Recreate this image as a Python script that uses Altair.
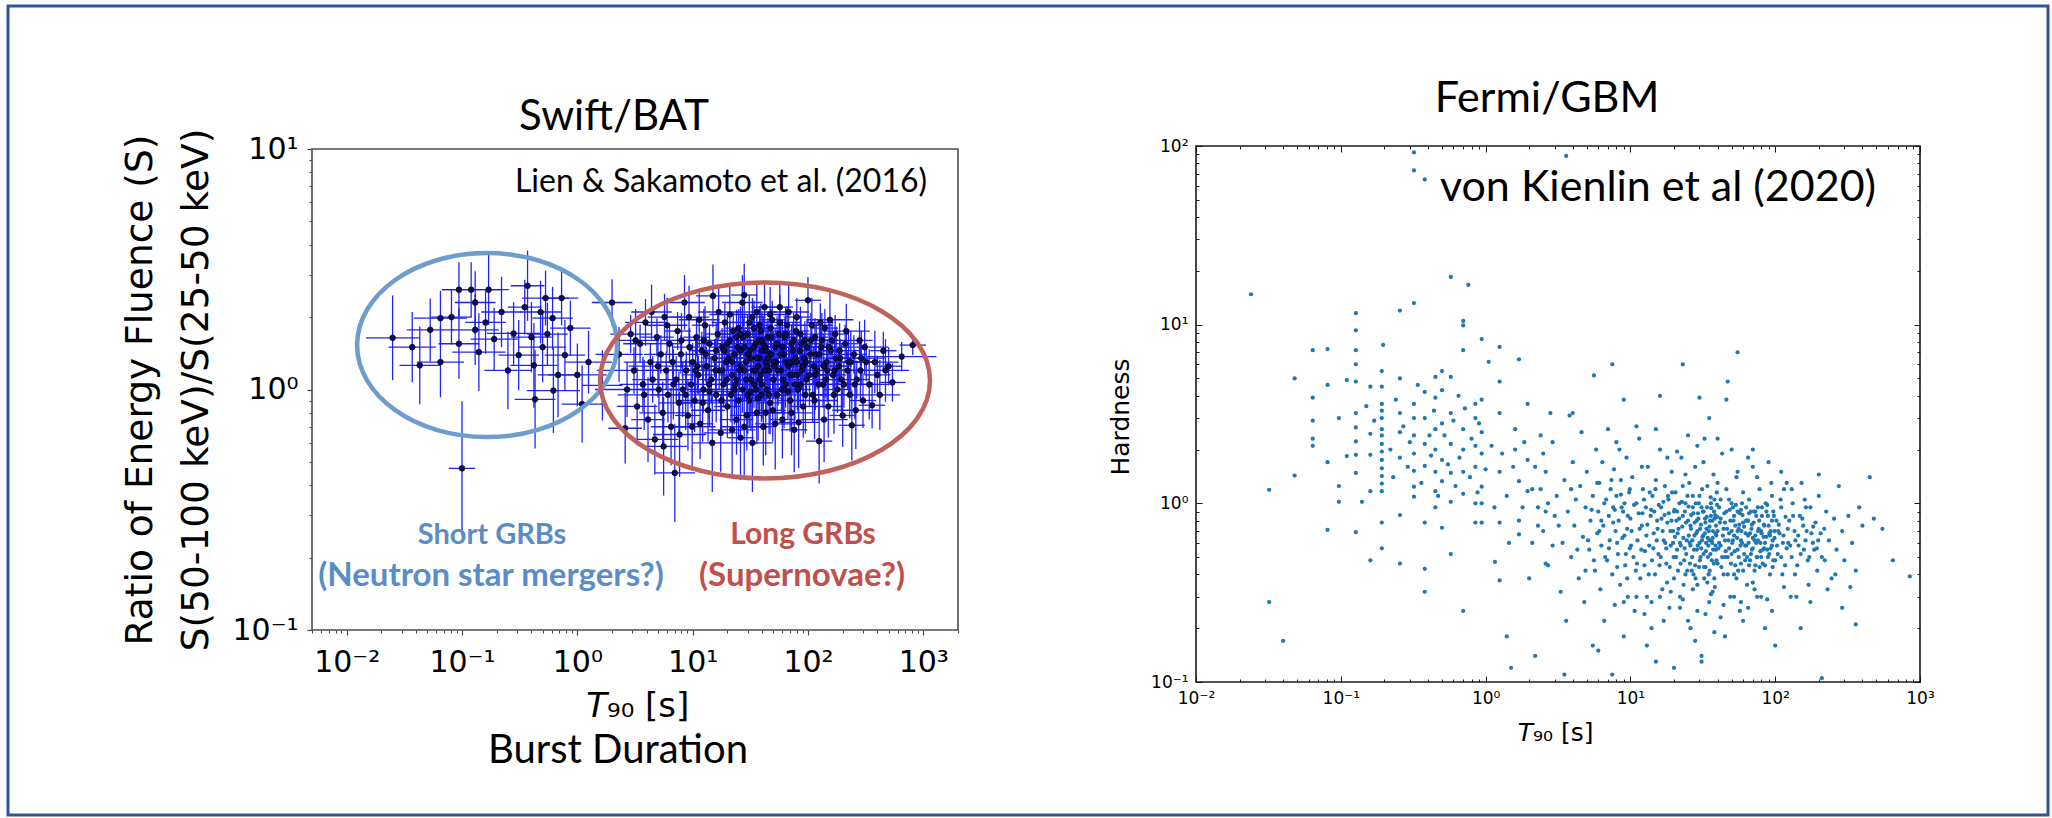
import altair as alt
import pandas as pd

# ---------------- Swift/BAT (Lien & Sakamoto et al. 2016) ----------------
# (T90 [s], fluence ratio S(50-100)/S(25-50), T90 error factor, ratio error factor)
bat_short = [
    (0.025, 1.64, 1.7, 1.5), (0.037, 1.50, 1.6, 1.4), (0.043, 1.26, 1.5, 1.45), (0.053, 1.77, 1.6, 1.35),
    (0.065, 1.98, 1.7, 1.3), (0.081, 2.0, 1.5, 1.3), (0.094, 2.6, 1.4, 1.3), (0.12, 2.6, 1.8, 1.3),
    (0.13, 2.3, 1.5, 1.35), (0.13, 1.77, 1.6, 1.4), (0.094, 1.55, 1.5, 1.4), (0.14, 1.43, 1.7, 1.45),
    (0.10, 0.47, 1.3, 1.9), (0.17, 2.6, 1.5, 1.4), (0.19, 1.62, 1.6, 1.35), (0.22, 2.1, 1.5, 1.4),
    (0.28, 1.71, 1.7, 1.35), (0.31, 1.39, 1.5, 1.4), (0.37, 2.7, 1.4, 1.4), (0.42, 1.26, 1.6, 1.5),
    (0.43, 0.91, 1.5, 1.6), (0.48, 2.1, 1.5, 1.35), (0.53, 2.4, 1.6, 1.3), (0.61, 1.98, 1.5, 1.35),
    (0.62, 0.99, 1.7, 1.5), (0.73, 2.4, 1.4, 1.3), (0.78, 1.39, 1.5, 1.4), (0.50, 1.5, 1.6, 1.4),
    (1.1, 0.87, 1.5, 1.45), (1.0, 1.15, 1.8, 1.35), (0.87, 1.8, 1.5, 1.3), (1.25, 1.3, 1.6, 1.35),
    (1.65, 1.04, 1.5, 1.4), (0.065, 1.3, 1.6, 1.4), (0.16, 1.9, 1.5, 1.35), (0.25, 1.2, 1.6, 1.45),
    (0.35, 2.2, 1.4, 1.3), (0.55, 1.7, 1.5, 1.35), (0.68, 1.15, 1.5, 1.5), (0.40, 1.65, 1.5, 1.4),
]
bat_long = [
    (2.0, 2.3, 1.5, 1.25), (2.3, 1.4, 1.6, 1.3), (2.6, 0.69, 1.4, 1.4), (2.7, 1.0, 1.9, 1.3), (2.9, 1.7, 1.5, 1.2),
    (3.1, 1.2, 2.1, 1.25), (3.3, 0.85, 1.5, 1.45), (3.5, 1.55, 1.4, 1.2), (3.7, 1.05, 1.6, 1.3), (3.9, 1.9, 1.5, 1.25),
    (4.1, 0.75, 1.4, 1.5), (4.3, 1.3, 1.7, 1.2), (4.5, 1.1, 1.5, 1.25), (4.7, 0.62, 1.6, 1.4), (4.9, 1.65, 1.4, 1.2),
    (5.1, 1.0, 1.5, 1.25), (5.3, 1.4, 1.4, 1.2), (5.5, 0.8, 1.6, 1.35), (5.7, 2.0, 1.4, 1.25), (5.9, 1.2, 1.5, 1.2),
    (6.1, 0.95, 1.4, 1.3), (6.3, 1.55, 1.3, 1.2), (6.5, 0.7, 1.5, 1.45), (6.7, 1.3, 1.4, 1.2), (7.0, 0.45, 1.5, 1.6),
    (7.2, 1.1, 1.4, 1.25), (7.4, 1.75, 1.3, 1.2), (7.6, 0.88, 1.5, 1.35), (7.9, 1.4, 1.4, 1.2), (8.2, 1.0, 1.3, 1.3),
    (8.5, 2.3, 1.5, 1.3), (8.8, 1.2, 1.4, 1.2), (9.1, 0.78, 1.3, 1.4), (9.4, 1.5, 1.4, 1.2), (9.7, 1.05, 1.3, 1.25),
    (10, 1.3, 1.3, 1.2), (10.4, 0.9, 1.4, 1.35), (10.8, 1.65, 1.3, 1.2), (11.2, 1.15, 1.4, 1.2), (11.6, 0.72, 1.3, 1.4),
    (12, 1.45, 1.3, 1.2), (12.4, 1.0, 1.4, 1.25), (12.8, 1.85, 1.3, 1.2), (13.2, 1.25, 1.3, 1.2), (13.6, 0.82, 1.4, 1.35),
    (14, 1.55, 1.3, 1.2), (14.5, 1.1, 1.3, 1.25), (15, 2.45, 1.4, 1.35), (15.5, 1.35, 1.3, 1.2), (16, 0.95, 1.3, 1.3),
    (16.5, 1.7, 1.3, 1.2), (17, 1.2, 1.3, 1.2), (17.5, 0.66, 1.4, 1.45), (18, 1.5, 1.3, 1.2), (18.5, 1.05, 1.3, 1.25),
    (19, 1.9, 1.3, 1.2), (19.5, 1.3, 1.3, 1.2),
    (20, 0.85, 1.3, 1.35), (21, 1.6, 1.3, 1.2), (22, 1.15, 1.3, 1.2), (23, 1.4, 1.3, 1.2), (24, 0.75, 1.4, 1.4),
    (25, 1.8, 1.3, 1.2), (26, 0.63, 1.3, 1.5), (26, 1.25, 1.3, 1.2), (27, 1.0, 1.3, 1.25), (28, 2.47, 1.3, 1.35),
    (28, 1.5, 1.3, 1.2), (29, 1.1, 1.3, 1.2), (30, 1.7, 1.3, 1.2), (31, 0.9, 1.3, 1.3), (32, 1.35, 1.3, 1.2),
    (33, 2.0, 1.3, 1.2), (34, 1.05, 1.3, 1.25), (35, 1.55, 1.3, 1.2), (36, 0.8, 1.3, 1.35), (37, 1.25, 1.3, 1.2),
    (38, 1.85, 1.3, 1.2), (39, 1.15, 1.3, 1.2), (40, 1.45, 1.3, 1.2), (41, 0.7, 1.3, 1.45), (42, 2.2, 1.3, 1.25),
    (43, 1.3, 1.3, 1.2), (44, 1.0, 1.3, 1.25), (45, 1.65, 1.3, 1.2), (46, 1.2, 1.3, 1.2), (47, 0.88, 1.3, 1.35),
    (48, 1.4, 1.3, 1.2), (49, 1.95, 1.3, 1.2), (50, 1.1, 1.3, 1.2),
    (20.5, 1.35, 1.3, 1.2), (21.5, 0.95, 1.3, 1.3), (22.5, 1.75, 1.3, 1.2), (23.5, 1.05, 1.3, 1.25), (24.5, 1.5, 1.3, 1.2),
    (25.5, 1.2, 1.3, 1.2), (27.5, 1.65, 1.3, 1.2), (29.5, 0.78, 1.4, 1.4), (31.5, 1.45, 1.3, 1.2), (33.5, 1.2, 1.3, 1.2),
    (35.5, 1.0, 1.3, 1.25), (37.5, 1.6, 1.3, 1.2), (39.5, 0.95, 1.3, 1.3), (42.5, 1.5, 1.3, 1.2), (44.5, 1.25, 1.3, 1.2),
    (47.5, 1.8, 1.3, 1.2), (49.5, 0.82, 1.3, 1.35),
    (52, 1.5, 1.3, 1.2), (54, 0.95, 1.3, 1.3), (56, 1.7, 1.3, 1.2), (57, 2.2, 1.3, 1.25), (58, 1.2, 1.3, 1.2),
    (60, 0.75, 1.3, 1.45), (62, 1.4, 1.3, 1.2), (64, 1.05, 1.3, 1.25), (66, 1.85, 1.3, 1.2), (68, 1.25, 1.3, 1.2),
    (70, 0.9, 1.3, 1.35), (72, 1.55, 1.3, 1.2), (74, 1.15, 1.3, 1.2), (76, 0.68, 1.3, 1.5), (78, 1.35, 1.3, 1.2),
    (80, 2.0, 1.3, 1.2), (82, 1.0, 1.3, 1.25), (85, 1.45, 1.3, 1.2), (88, 1.2, 1.3, 1.2), (91, 0.85, 1.3, 1.35),
    (94, 1.6, 1.3, 1.2), (97, 1.1, 1.3, 1.2), (100, 2.35, 1.3, 1.25),
    (53, 1.3, 1.3, 1.2), (59, 1.0, 1.3, 1.25), (63, 1.65, 1.3, 1.2), (67, 0.98, 1.3, 1.3), (73, 1.3, 1.3, 1.2),
    (79, 1.75, 1.3, 1.2), (86, 1.05, 1.3, 1.25), (93, 1.35, 1.3, 1.2),
    (105, 1.4, 1.3, 1.2), (110, 0.95, 1.3, 1.3), (115, 1.65, 1.3, 1.2), (120, 1.2, 1.3, 1.2), (125, 0.61, 1.3, 1.5),
    (130, 1.5, 1.3, 1.2), (135, 1.05, 1.3, 1.25), (140, 1.8, 1.3, 1.2), (145, 1.3, 1.3, 1.2), (150, 0.85, 1.3, 1.35),
    (158, 1.45, 1.3, 1.2), (165, 1.15, 1.3, 1.2), (172, 1.7, 1.3, 1.2), (180, 1.0, 1.3, 1.25), (190, 1.35, 1.3, 1.2),
    (200, 0.78, 1.3, 1.35), (210, 1.55, 1.3, 1.2), (220, 1.2, 1.3, 1.2), (230, 0.95, 1.3, 1.25), (240, 0.71, 1.3, 1.4),
    (250, 1.4, 1.3, 1.2), (265, 1.1, 1.3, 1.2), (280, 1.6, 1.3, 1.2), (300, 0.9, 1.3, 1.3),
    (112, 1.25, 1.3, 1.2), (128, 1.9, 1.3, 1.2), (143, 1.1, 1.3, 1.2), (162, 1.6, 1.3, 1.2), (185, 1.25, 1.3, 1.2),
    (205, 1.05, 1.3, 1.25),
    (320, 1.3, 1.3, 1.2), (360, 0.86, 1.3, 1.25), (400, 1.15, 1.3, 1.2), (450, 1.45, 1.3, 1.2), (540, 1.07, 1.3, 1.2),
    (650, 1.37, 2.0, 1.15), (810, 1.53, 1.3, 1.1), (500, 1.25, 1.3, 1.2),
]
bat_long_more = [
    (3.2, 1.6, 1.6, 1.35), (3.8, 0.95, 1.7, 1.4), (4.4, 2.1, 1.5, 1.3), (5.0, 1.25, 1.8, 1.35), (5.6, 0.58, 1.6, 1.6),
    (6.0, 1.85, 1.5, 1.3), (6.8, 1.05, 1.6, 1.4), (7.7, 0.65, 1.7, 1.5), (8.0, 1.6, 1.5, 1.3), (8.7, 0.95, 1.6, 1.4),
    (9.3, 2.0, 1.5, 1.35), (9.9, 0.7, 1.6, 1.5), (10.6, 1.2, 1.7, 1.35), (11.4, 1.95, 1.5, 1.3), (12.2, 0.88, 1.6, 1.45),
    (13, 1.4, 1.5, 1.3), (13.9, 1.05, 1.6, 1.4), (14.8, 0.6, 1.5, 1.6), (15.8, 1.2, 1.6, 1.35), (16.8, 2.1, 1.5, 1.3),
    (17.8, 0.9, 1.6, 1.4), (18.8, 1.45, 1.5, 1.3), (19.8, 1.1, 1.6, 1.35), (21, 2.05, 1.5, 1.3), (22, 0.68, 1.6, 1.55),
    (23, 1.0, 1.7, 1.4), (24, 1.65, 1.5, 1.3), (25, 0.9, 1.6, 1.45), (26, 1.45, 1.5, 1.3), (27, 2.3, 1.5, 1.3),
    (28, 0.7, 1.6, 1.6), (29, 1.3, 1.5, 1.35), (30, 0.95, 1.7, 1.45), (31, 1.9, 1.5, 1.3), (32, 1.1, 1.6, 1.4),
    (33, 0.6, 1.5, 1.6), (34, 1.5, 1.6, 1.3), (35, 1.2, 1.5, 1.35), (36, 2.1, 1.5, 1.3), (37, 0.92, 1.6, 1.5),
    (38, 1.35, 1.5, 1.35), (39, 1.75, 1.6, 1.3), (40, 1.05, 1.5, 1.4), (41, 1.55, 1.6, 1.3), (43, 0.8, 1.5, 1.5),
    (45, 1.35, 1.6, 1.35), (47, 2.05, 1.5, 1.3), (50, 1.3, 1.6, 1.35), (52, 0.72, 1.5, 1.55), (55, 1.2, 1.6, 1.4),
    (57, 1.9, 1.5, 1.3), (60, 1.5, 1.6, 1.3), (62, 1.0, 1.5, 1.45), (65, 1.3, 1.6, 1.35), (68, 2.1, 1.5, 1.3),
    (70, 1.15, 1.6, 1.4), (72, 0.8, 1.5, 1.5), (75, 1.6, 1.6, 1.3), (77, 1.05, 1.5, 1.4), (80, 1.3, 1.6, 1.35),
    (83, 0.73, 1.5, 1.55), (86, 1.7, 1.6, 1.3), (90, 1.25, 1.5, 1.35), (95, 0.95, 1.6, 1.45), (98, 1.5, 1.5, 1.3),
    (103, 1.15, 1.6, 1.35), (108, 1.85, 1.5, 1.3), (114, 0.9, 1.6, 1.45), (118, 1.4, 1.5, 1.35), (124, 1.05, 1.6, 1.4),
    (132, 1.6, 1.5, 1.3), (138, 0.75, 1.6, 1.5), (147, 1.2, 1.5, 1.35), (155, 1.95, 1.6, 1.3), (168, 0.95, 1.5, 1.45),
    (176, 1.35, 1.6, 1.35), (195, 1.1, 1.5, 1.4), (215, 1.75, 1.6, 1.3), (235, 1.3, 1.5, 1.35), (260, 0.82, 1.6, 1.45),
    (285, 1.2, 1.5, 1.35), (310, 1.5, 1.6, 1.3), (340, 1.05, 1.5, 1.4), (380, 1.3, 1.6, 1.35), (420, 0.95, 1.5, 1.4),
    (470, 1.2, 1.6, 1.35),
]
bat_core = [
    (11, 1.25, 1.5, 1.3), (12.5, 1.6, 1.6, 1.35), (14, 0.98, 1.5, 1.4), (16, 1.45, 1.6, 1.3), (18, 1.2, 1.5, 1.35),
    (20, 1.55, 1.6, 1.3), (22, 1.3, 1.5, 1.35), (24, 1.1, 1.6, 1.4), (26, 1.7, 1.5, 1.3), (28, 1.2, 1.6, 1.35),
    (30, 1.4, 1.5, 1.3), (32, 0.98, 1.6, 1.45), (34, 1.8, 1.5, 1.3), (36, 1.35, 1.6, 1.35), (38, 1.1, 1.5, 1.4),
    (40, 1.6, 1.6, 1.3), (42, 1.2, 1.5, 1.35), (44, 1.45, 1.6, 1.3), (46, 0.95, 1.5, 1.45), (48, 1.65, 1.6, 1.3),
    (51, 1.25, 1.5, 1.35), (54, 1.55, 1.6, 1.3), (58, 1.4, 1.5, 1.35), (61, 1.1, 1.6, 1.4), (64, 1.7, 1.5, 1.3),
    (69, 1.3, 1.6, 1.35), (74, 1.45, 1.5, 1.3), (81, 1.15, 1.6, 1.4), (87, 1.55, 1.5, 1.3), (96, 1.3, 1.6, 1.35),
    (106, 1.6, 1.5, 1.3), (116, 1.15, 1.6, 1.4), (126, 1.4, 1.5, 1.35), (137, 1.25, 1.6, 1.35), (152, 1.5, 1.5, 1.3),
    (170, 1.2, 1.6, 1.4), (188, 1.45, 1.5, 1.3), (225, 1.3, 1.6, 1.35), (255, 1.05, 1.5, 1.4), (290, 1.35, 1.6, 1.3),
]
# annotation ellipses (centre T90, centre ratio)
ellipse_t90 = [0.165, 42.4]
ellipse_ratio = [1.53, 1.09]

# ---------------- Fermi/GBM (von Kienlin et al. 2020) ----------------
# (T90 [s], hardness)
gbm_short = [
    (0.024, 14.8), (0.32, 92), (0.32, 73), (0.38, 65), (0.032, 1.19), (0.032, 0.28), (0.040, 0.17), (0.048, 5.0), (0.048, 1.43),
    (0.064, 7.2), (0.064, 3.9), (0.064, 2.9), (0.064, 2.3), (0.064, 2.1),
    (0.081, 7.3), (0.081, 4.6), (0.081, 1.7), (0.081, 0.71),
    (0.097, 3.0), (0.097, 1.25), (0.097, 1.02), (0.11, 4.9), (0.11, 1.84),
    (0.127, 11.6), (0.127, 9.3), (0.127, 7.2), (0.127, 6.0), (0.127, 4.8), (0.127, 3.2), (0.127, 2.66), (0.127, 2.22),
    (0.127, 1.87), (0.127, 1.48), (0.127, 0.69),
    (0.14, 1.02), (0.16, 0.48), (0.16, 4.5), (0.16, 2.45), (0.16, 1.87), (0.16, 1.17),
    (0.196, 7.7), (0.192, 5.5), (0.192, 4.5), (0.192, 3.6), (0.192, 3.3), (0.192, 3.0), (0.192, 2.6), (0.192, 2.4),
    (0.192, 2.15), (0.192, 1.95), (0.192, 1.75), (0.192, 1.57), (0.192, 1.42), (0.192, 1.29), (0.192, 1.17),
    (0.192, 0.78), (0.192, 0.56),
    (0.256, 12.0), (0.256, 5.0), (0.256, 3.2), (0.256, 2.5), (0.256, 1.8), (0.256, 0.86), (0.256, 0.46),
    (0.32, 13.2), (0.32, 3.6), (0.32, 3.0), (0.32, 2.4), (0.32, 1.9), (0.32, 1.52), (0.32, 1.24), (0.32, 1.09),
    (0.38, 4.2), (0.38, 3.0), (0.38, 2.15), (0.38, 1.62), (0.38, 0.43), (0.38, 0.32), (0.38, 0.78),
    (0.45, 5.1), (0.45, 3.9), (0.45, 2.6), (0.45, 2.0), (0.45, 1.5), (0.45, 1.17), (0.45, 0.95),
    (0.50, 5.5), (0.50, 4.3), (0.50, 2.8), (0.50, 1.75), (0.50, 1.33), (0.50, 0.73),
    (0.575, 18.5), (0.575, 5.1), (0.575, 3.2), (0.575, 2.15), (0.575, 1.48), (0.575, 1.02), (0.575, 0.52),
    (0.70, 10.5), (0.70, 9.9), (0.70, 7.2), (0.70, 2.6), (0.70, 2.0), (0.70, 1.5), (0.70, 1.13), (0.70, 0.25),
    (0.76, 16.7), (0.85, 3.6), (0.85, 3.0), (0.85, 2.1), (0.85, 1.6), (0.85, 1.0), (0.85, 0.78),
    (0.94, 8.3), (0.94, 3.8), (0.94, 2.5), (0.94, 1.9), (0.94, 1.24), (0.94, 1.0), (0.94, 0.78),
    (1.05, 6.2), (1.16, 0.47), (1.25, 7.5), (1.25, 4.8), (1.25, 3.2), (1.25, 1.5), (1.25, 0.78), (1.25, 0.37),
    (1.4, 0.18), (1.5, 0.12), (1.7, 6.4), (1.6, 2.6), (1.6, 2.0), (1.7, 1.33), (1.7, 0.8), (1.7, 0.67),
    (1.95, 3.6), (1.95, 1.75), (1.95, 1.17), (2.0, 0.38), (2.2, 0.14), (2.4, 2.4), (2.4, 1.2), (2.6, 0.9), (2.6, 0.46), (2.8, 3.2),
    (0.15, 3.5), (0.17, 2.9), (0.22, 2.0), (0.23, 1.4), (0.24, 3.8), (0.27, 2.7), (0.29, 1.6), (0.30, 2.2), (0.34, 4.6), (0.36, 1.3),
    (0.41, 2.4), (0.42, 1.85), (0.44, 3.3), (0.47, 1.1), (0.52, 2.4), (0.55, 1.65), (0.60, 2.9), (0.62, 1.25), (0.65, 4.0), (0.66, 1.8),
    (0.72, 3.4), (0.78, 1.4), (0.80, 2.3), (0.88, 1.15), (0.90, 2.8), (1.0, 1.55), (1.1, 2.1), (1.15, 0.95), (1.3, 1.9), (1.4, 1.1),
    (1.45, 0.6), (1.55, 1.6), (1.8, 0.95), (1.85, 2.2), (2.1, 0.6), (2.2, 1.6), (2.3, 0.75), (2.5, 1.9), (2.7, 1.0), (2.9, 0.58),
]
gbm_long = [
    (3.6, 88),
    (2.1, 1.2), (2.3, 0.95), (2.5, 0.7), (2.6, 1.5), (2.7, 0.45), (2.9, 2.2), (3.0, 0.85), (3.1, 1.1), (3.3, 0.32), (3.4, 0.6),
    (3.5, 1.35), (3.6, 0.22), (3.7, 0.9), (3.8, 3.1), (3.9, 0.5), (4.0, 1.7), (4.1, 0.75), (4.2, 1.05), (4.4, 0.38), (4.5, 1.25),
    (4.6, 2.5), (4.7, 0.65), (4.8, 0.28), (4.9, 0.95), (5.0, 1.5), (5.2, 0.55), (5.3, 0.8), (5.5, 0.16), (5.5, 1.1), (5.7, 0.42),
    (5.8, 2.0), (5.9, 0.68),
    (6.0, 0.9), (6.1, 1.3), (6.2, 0.33), (6.3, 0.58), (6.4, 1.7), (6.5, 0.75), (6.6, 0.22), (6.8, 1.05), (6.9, 0.48), (7.0, 2.6),
    (7.1, 0.85), (7.2, 0.62), (7.3, 1.2), (7.5, 0.4), (7.6, 0.95), (7.7, 1.55), (7.8, 0.27), (7.9, 0.7), (8.0, 1.1), (8.2, 0.52),
    (8.3, 0.8), (8.4, 2.0), (8.5, 0.35), (8.6, 1.35), (8.8, 0.64), (8.9, 0.9), (9.0, 0.18), (9.1, 1.0), (9.2, 0.45), (9.4, 1.8),
    (9.5, 0.72), (9.6, 0.3), (9.8, 1.15), (9.9, 0.56),
    (10, 0.82), (10.3, 1.4), (10.5, 0.5), (10.7, 0.25), (11, 1.0), (11.2, 0.62), (11.5, 2.3), (11.7, 0.38), (12, 0.75), (12.2, 1.2),
    (12.5, 0.45), (12.8, 0.95), (13, 0.3), (13.2, 1.6), (13.5, 0.58), (13.8, 0.85), (14, 0.2), (14.2, 1.1), (14.5, 0.68), (14.8, 0.4),
    (15, 1.35), (15.3, 0.8), (15.6, 0.52), (16, 2.0), (16.3, 0.95), (16.6, 0.33), (17, 0.62), (17.3, 1.25), (17.7, 0.46), (18, 0.78),
    (18.3, 1.05), (18.6, 0.26), (19, 0.58), (19.3, 1.5), (19.7, 0.7), (20, 0.38), (20, 0.9),
    (20.5, 1.15), (21, 0.55), (21.5, 0.72), (22, 0.3), (22.5, 1.8), (23, 0.85), (23.5, 0.48), (24, 1.0), (24.5, 0.62), (25, 0.22),
    (25.5, 1.3), (26, 0.75), (26.5, 0.42), (27, 0.95), (27.5, 0.55), (28, 1.6), (28.5, 0.68), (29, 0.35), (29.5, 0.82), (30, 1.1),
    (30.5, 0.5), (31, 0.14), (31.5, 0.65), (32, 0.9), (32.5, 2.3), (33, 0.44), (33.5, 0.72), (34, 1.25), (34.5, 0.58), (35, 0.28),
    (35.5, 0.8), (36, 1.0), (36.5, 0.48), (37, 0.64), (37.5, 1.45), (38, 0.38), (38.5, 0.86), (39, 0.55), (39.5, 1.15), (40, 0.7),
    (21, 0.9), (22, 0.6), (23, 1.25), (24, 0.4), (25, 0.8), (26, 0.58), (27, 1.1), (28, 0.45), (29, 0.7), (30, 0.6),
    (31, 0.95), (32, 0.52), (33, 0.78), (34, 0.36), (35, 0.62), (36, 0.85), (37, 0.32), (38, 1.05), (39, 0.75), (40, 0.46),
    (41, 0.95), (42, 0.58), (43, 1.9), (44, 0.4), (45, 0.78), (46, 1.2), (47, 0.5), (48, 0.68), (49, 0.3), (50, 1.0),
    (51, 0.62), (52, 0.85), (53, 0.45), (54, 1.4), (55, 0.55), (56, 0.72), (57, 0.25), (58, 0.92), (59, 0.6), (60, 1.15),
    (62, 0.48), (63, 0.8), (64, 0.35), (65, 0.66), (66, 1.05), (68, 0.52), (69, 0.76), (70, 1.6), (72, 0.42), (73, 0.9),
    (74, 0.6), (75, 0.3), (77, 0.72), (78, 1.2), (80, 0.5), (81, 0.85), (83, 0.65), (85, 0.2), (86, 1.0), (88, 0.55),
    (90, 0.75), (92, 0.4), (94, 1.3), (96, 0.62), (98, 0.85), (100, 0.48),
    (42, 0.82), (45, 0.5), (48, 1.05), (50, 0.7), (52, 0.4), (55, 0.9), (58, 0.46), (60, 0.78), (63, 0.58), (66, 0.88),
    (70, 0.64), (73, 0.45), (76, 0.95), (80, 0.7), (84, 0.56), (88, 0.98), (92, 0.66), (96, 0.44),
    (105, 0.7), (110, 0.95), (112, 0.4), (115, 1.2), (120, 0.56), (125, 0.8), (128, 0.3), (132, 1.0), (138, 0.62), (142, 0.45),
    (148, 0.85), (152, 1.3), (158, 0.55), (165, 0.7), (170, 0.35), (175, 0.95), (182, 0.6), (190, 0.78), (195, 0.42), (200, 1.1),
    (210, 0.5), (218, 0.72), (225, 0.9), (235, 0.62), (245, 0.38), (255, 0.82), (265, 0.55), (275, 1.25), (290, 0.7), (300, 0.48),
    (320, 0.85), (340, 0.6), (360, 0.42), (380, 0.95), (400, 0.75), (450, 1.4), (480, 0.82), (550, 0.72), (650, 0.48), (850, 0.39),
    (360, 0.21), (290, 0.26), (330, 0.34),
    (7.5, 0.11), (15, 0.13), (20, 0.12), (31, 0.13), (210, 0.105), (3.5, 0.11), (6, 0.15), (13, 0.16), (28, 0.17), (45, 0.18),
    (100, 0.16), (150, 0.2), (60, 0.22),
    (5.6, 5.2), (7.5, 6.0), (23, 6.0), (55, 7.0), (47, 4.8), (46, 3.8), (30, 3.9), (16, 4.0), (9, 3.8), (4, 3.2),
    (11, 2.7), (35, 3.0), (70, 2.0), (120, 1.3), (200, 1.45),
]
gbm_core = [
    (8.1, 0.6), (8.7, 0.95), (9.3, 0.52), (9.9, 1.2), (10.2, 0.7), (10.9, 0.42), (11.4, 0.88), (11.9, 0.55), (12.4, 1.05), (12.9, 0.66),
    (13.4, 0.4), (13.9, 0.92), (14.4, 0.56), (14.9, 1.2), (15.4, 0.72), (15.9, 0.45), (16.4, 0.82), (16.9, 1.02), (17.4, 0.6), (17.9, 0.36),
    (18.4, 0.88), (18.9, 0.7), (19.4, 1.15), (19.9, 0.5), (20.3, 0.65), (20.8, 0.8), (21.3, 0.42), (21.8, 1.0), (22.3, 0.58), (22.8, 0.74),
    (23.3, 0.35), (23.8, 0.9), (24.3, 0.52), (24.8, 1.1), (25.3, 0.66), (25.8, 0.46), (26.3, 0.86), (26.8, 0.62), (27.3, 0.4), (27.8, 0.78),
    (28.3, 1.0), (28.8, 0.55), (29.3, 0.88), (29.8, 0.44), (30.3, 0.72), (30.8, 0.56), (31.3, 1.2), (31.8, 0.66), (32.3, 0.38), (32.8, 0.82),
    (33.3, 0.6), (33.8, 0.95), (34.3, 0.5), (34.8, 0.7), (35.3, 0.42), (35.8, 1.08), (36.3, 0.62), (36.8, 0.8), (37.3, 0.55), (37.8, 0.9),
    (38.3, 0.34), (38.8, 0.68), (39.3, 0.48), (39.8, 0.84), (41, 0.6), (42, 1.05), (43, 0.5), (44, 0.72), (45, 0.62), (46, 0.9),
    (47, 0.4), (48, 0.56), (49, 0.8), (50, 0.52), (51, 0.95), (52, 0.66), (53, 0.75), (54, 0.38), (55, 0.7), (56, 0.5),
    (57, 0.88), (58, 0.62), (59, 1.0), (60, 0.42), (61, 0.74), (62, 0.58), (63, 0.95), (64, 0.5), (65, 0.8), (66, 0.45),
    (67, 0.68), (68, 0.9), (69, 0.55), (70, 0.36), (71, 0.78), (72, 0.62), (74, 0.85), (75, 0.5), (76, 0.7), (78, 0.44),
    (79, 0.6), (81, 0.95), (82, 0.55), (84, 0.75), (85, 0.45), (87, 0.65), (89, 0.85), (91, 0.52), (93, 0.7), (95, 0.58),
    (97, 0.9), (99, 0.64), (102, 0.8), (104, 0.52), (107, 0.68), (109, 1.05), (113, 0.6), (117, 0.45), (122, 0.72), (127, 0.58),
    (133, 0.85), (137, 0.4), (144, 0.66), (150, 0.52), (156, 0.75), (163, 0.95), (168, 0.48), (178, 0.68), (186, 0.55), (198, 0.62),
    (3.2, 0.75), (3.9, 1.2), (4.3, 0.55), (4.9, 0.42), (5.4, 0.92), (5.9, 1.3), (6.3, 0.8), (6.7, 0.5), (7.4, 1.35), (7.8, 0.92),
    (11, 0.3), (14, 0.28), (17, 0.22), (22, 0.26), (26, 0.2), (33, 0.24), (38, 0.19), (44, 0.27), (52, 0.3), (65, 0.26),
    (80, 0.3), (95, 0.25), (115, 0.34), (140, 0.3), (175, 0.28), (230, 0.33), (260, 0.4), (27, 0.33), (19, 0.32), (9.5, 0.38),
    (12, 1.6), (18, 1.8), (24, 1.45), (32, 1.7), (40, 1.3), (55, 1.5), (75, 1.4), (95, 1.1), (130, 1.2), (160, 1.05),
    (15, 2.6), (25, 2.4), (40, 2.3), (65, 1.8), (90, 1.7), (8, 2.2), (21, 1.95), (29, 2.1), (50, 2.0), (110, 1.5),
]
gbm_core2 = [
    (5.1, 0.62), (5.6, 0.48), (6.1, 0.7), (6.6, 1.0), (7.1, 0.56), (7.6, 0.78), (8.1, 0.44), (8.6, 1.12), (9.1, 0.66), (9.6, 0.85),
    (10.1, 0.58), (10.6, 0.98), (11.1, 0.46), (11.6, 0.72), (12.1, 0.88), (12.6, 0.54), (13.1, 0.76), (13.6, 1.15), (14.1, 0.48), (14.6, 0.9),
    (15.2, 0.62), (15.7, 0.98), (16.2, 0.5), (16.7, 0.7), (17.2, 0.86), (17.7, 0.56), (18.2, 1.1), (18.7, 0.44), (19.2, 0.8), (19.7, 0.6),
    (20.2, 0.92), (20.7, 0.5), (21.2, 0.68), (21.7, 0.82), (22.2, 0.46), (22.7, 1.02), (23.2, 0.64), (23.7, 0.56), (24.2, 0.78), (24.7, 0.42),
    (25.2, 0.96), (25.7, 0.6), (26.2, 0.72), (26.7, 0.5), (27.2, 0.88), (27.7, 0.66), (28.2, 0.38), (28.7, 0.8), (29.2, 0.58), (29.7, 1.0),
    (30.2, 0.48), (30.7, 0.76), (31.2, 0.62), (31.7, 0.9), (32.2, 0.44), (32.7, 0.68), (33.2, 0.54), (33.7, 0.84), (34.2, 0.64), (34.7, 0.4),
    (35.2, 0.74), (35.7, 0.52), (36.2, 0.94), (36.7, 0.6), (37.2, 0.7), (37.7, 0.46), (38.2, 0.82), (38.7, 0.58), (39.2, 0.66), (39.7, 0.98),
    (40.5, 0.56), (41.5, 0.78), (42.5, 0.44), (43.5, 0.66), (44.5, 0.88), (45.5, 0.54), (46.5, 0.72), (47.5, 0.62), (48.5, 0.92), (49.5, 0.46),
    (50.5, 0.6), (51.5, 0.8), (52.5, 0.54), (53.5, 0.98), (54.5, 0.64), (55.5, 0.42), (56.5, 0.76), (57.5, 0.58), (58.5, 0.7), (59.5, 0.86),
    (61, 0.52), (62.5, 0.68), (64, 0.8), (65.5, 0.6), (67, 0.48), (68.5, 0.72), (70, 0.56), (71.5, 0.9), (73, 0.66), (74.5, 0.5),
    (76, 0.62), (77.5, 0.8), (79, 0.54), (80.5, 0.68), (82, 0.46), (83.5, 0.76), (85, 0.6), (87, 0.9), (89, 0.5), (91, 0.68),
    (93, 0.56), (95, 0.8), (97, 0.48), (99, 0.7), (103, 0.58), (106, 0.76), (110, 0.5), (114, 0.66), (118, 0.84), (123, 0.6),
    (130, 0.5), (136, 0.7), (145, 0.58), (154, 0.82), (162, 0.62), (172, 0.5), (183, 0.74), (194, 0.56), (206, 0.68), (220, 0.48),
    (9, 0.28), (12.5, 0.24), (16, 0.3), (23, 0.29), (29, 0.25), (36, 0.31), (42, 0.23), (58, 0.28), (72, 0.33), (88, 0.29),
]

# axis tick values
left_x_major = [0.01, 0.1, 1, 10, 100, 1000]
left_y_major = [0.1, 1, 10]
right_x_major = [0.01, 0.1, 1, 10, 100, 1000]
right_y_major = [0.1, 1, 10, 100]


def minors(lo, hi):
    out = []
    d = 1e-4
    while d < 1e4:
        for m in range(2, 10):
            v = round(m * d, 6)
            if lo <= v <= hi:
                out.append(v)
        d *= 10
    return out


left_x_minor = minors(0.005, 2000)
left_y_minor = minors(0.1, 10)
right_x_minor = minors(0.01, 1000)
right_y_minor = minors(0.1, 100)

SUP = {-2: "⁻²", -1: "⁻¹", 0: "⁰", 1: "¹", 2: "²", 3: "³"}


def pow_labels(exps):
    arr = ",".join("'10%s'" % SUP[e] for e in exps)
    return "[%s][round(log(datum.value)/LN10) - (%d)]" % (arr, exps[0])


# ---------------- layout ----------------
PL, PT, PR, PB = 8, 6, 4, 3
W, H = 2052 - PL - PR, 818 - PT - PB


def px(x):
    return x - PL


def py(y):
    return y - PT


def axis(orient, offset, values, tick_size=0, labels=False, expr="", font_size=12, pad=4,
         tick_color="black", tick_width=1.0):
    kw = dict(orient=orient, offset=offset, values=values, domain=False, grid=False, title=None,
              labels=labels, ticks=tick_size > 0, tickSize=tick_size, tickColor=tick_color,
              tickWidth=tick_width)
    if labels:
        kw.update(labelExpr=expr, labelFont="DejaVu Sans", labelFontSize=font_size, labelColor="black",
                  labelPadding=pad, labelFlush=False, labelOverlap=False)
    return alt.Axis(**kw)


one = pd.DataFrame({"v": [1.0]})

# ---------------- left panel ----------------
bat_df = pd.DataFrame(bat_short + bat_long + bat_long_more + bat_core, columns=["t90", "ratio", "fx", "fy"])
bat_df["t_lo"] = bat_df["t90"] / bat_df["fx"]
bat_df["t_hi"] = bat_df["t90"] * bat_df["fx"]
bat_df["r_lo"] = bat_df["ratio"] / bat_df["fy"]
bat_df["r_hi"] = bat_df["ratio"] * bat_df["fy"]

lxs = alt.Scale(type="log", domain=[0.005, 2000], range=[px(312), px(958)], nice=False)
lys = alt.Scale(type="log", domain=[0.1, 10], range=[py(630), py(149)], nice=False)
L_XOFF = py(630) - H
L_YOFF = -px(312)
ERR = "#1818F8"

bat = alt.Chart(bat_df)
err_x = bat.mark_rule(color=ERR, strokeWidth=1.3, opacity=0.95).encode(
    x=alt.X("t_lo:Q", scale=lxs,
            axis=axis("bottom", L_XOFF, left_x_major, 5, True, pow_labels([-2, -1, 0, 1, 2, 3]), 30, 12, "#444", 1.2)),
    x2="t_hi:Q",
    y=alt.Y("ratio:Q", scale=lys,
            axis=axis("left", L_YOFF, left_y_major, 5, True, pow_labels([-1, 0, 1]), 30, 9, "#444", 1.2)),
)
err_y = bat.mark_rule(color=ERR, strokeWidth=1.3, opacity=0.95).encode(
    x=alt.X("t90:Q", scale=lxs, axis=None),
    y=alt.Y("r_lo:Q", scale=lys, axis=None),
    y2="r_hi:Q",
)
bat_pts = bat.mark_circle(color="#0C0C5E", size=32, opacity=1, stroke="black", strokeWidth=0.7).encode(
    x=alt.X("t90:Q", scale=lxs, axis=None),
    y=alt.Y("ratio:Q", scale=lys, axis=None),
)
left_minor = alt.Chart(one).mark_point(opacity=0).encode(
    x=alt.X("v:Q", scale=lxs, axis=axis("bottom", L_XOFF, left_x_minor, 3, tick_color="#444")),
    y=alt.Y("v:Q", scale=lys, axis=axis("left", L_YOFF, left_y_minor, 3, tick_color="#444")),
)
ell_df = pd.DataFrame({"t90": ellipse_t90, "ratio": ellipse_ratio})
ell_blue = alt.Chart(ell_df.iloc[[0]]).mark_point(
    shape="M -1 0 A 1 0.708 0 1 1 1 0 A 1 0.708 0 1 1 -1 0 Z", size=260 ** 2, filled=False,
    stroke="#6C9DCB", strokeWidth=4.5, opacity=1,
).encode(x=alt.X("t90:Q", scale=lxs, axis=None), y=alt.Y("ratio:Q", scale=lys, axis=None))
ell_red = alt.Chart(ell_df.iloc[[1]]).mark_point(
    shape="M -1 0 A 1 0.594 0 1 1 1 0 A 1 0.594 0 1 1 -1 0 Z", size=330 ** 2, filled=False,
    stroke="#C0625C", strokeWidth=4.5, opacity=1,
).encode(x=alt.X("t90:Q", scale=lxs, axis=None), y=alt.Y("ratio:Q", scale=lys, axis=None))
left_frame = alt.Chart(pd.DataFrame({"x0": [0.005], "x1": [2000], "y0": [0.1], "y1": [10]})).mark_rect(
    fillOpacity=0, stroke="#4d4d4d", strokeWidth=1.6
).encode(x=alt.X("x0:Q", scale=lxs, axis=None), x2="x1:Q",
         y=alt.Y("y0:Q", scale=lys, axis=None), y2="y1:Q")

left_group = alt.layer(err_x, err_y, bat_pts, left_frame, left_minor, ell_blue, ell_red).resolve_axis(
    x="independent", y="independent")

# ---------------- right panel ----------------
gbm_df = pd.DataFrame(gbm_short + gbm_long + gbm_core + gbm_core2, columns=["t90", "hardness"])
rxs = alt.Scale(type="log", domain=[0.01, 1000], range=[px(1196), px(1920)], nice=False)
rys = alt.Scale(type="log", domain=[0.1, 100], range=[py(682), py(146)], nice=False)
R_BOT = py(682) - H
R_LEFT = -px(1196)
R_TOP = -py(146)
R_RIGHT = px(1920) - W
MAJ, MIN = 6, 3

gbm_pts = alt.Chart(gbm_df).mark_circle(color="#1f77b4", size=18, opacity=1).encode(
    x=alt.X("t90:Q", scale=rxs,
            axis=axis("bottom", R_BOT, right_x_major, 0, True, pow_labels([-2, -1, 0, 1, 2, 3]), 17, 8)),
    y=alt.Y("hardness:Q", scale=rys,
            axis=axis("left", R_LEFT, right_y_major, 0, True, pow_labels([-1, 0, 1, 2]), 17, 8)),
)
right_frame = alt.Chart(pd.DataFrame({"x0": [0.01], "x1": [1000], "y0": [0.1], "y1": [100]})).mark_rect(
    fillOpacity=0, stroke="#1a1a1a", strokeWidth=1.6
).encode(x=alt.X("x0:Q", scale=rxs, axis=None), x2="x1:Q",
         y=alt.Y("y0:Q", scale=rys, axis=None), y2="y1:Q")


def tick_layer(xorient, xoff, xvals, yorient, yoff, yvals, size):
    return alt.Chart(one).mark_point(opacity=0).encode(
        x=alt.X("v:Q", scale=rxs, axis=axis(xorient, xoff, xvals, size, tick_color="#1a1a1a")),
        y=alt.Y("v:Q", scale=rys, axis=axis(yorient, yoff, yvals, size, tick_color="#1a1a1a")),
    )


t_bl_major = tick_layer("bottom", R_BOT - MAJ, right_x_major, "left", R_LEFT - MAJ, right_y_major, MAJ)
t_bl_minor = tick_layer("bottom", R_BOT - MIN, right_x_minor, "left", R_LEFT - MIN, right_y_minor, MIN)
t_tr_major = tick_layer("top", R_TOP - MAJ, right_x_major, "right", R_RIGHT - MAJ, right_y_major, MAJ)
t_tr_minor = tick_layer("top", R_TOP - MIN, right_x_minor, "right", R_RIGHT - MIN, right_y_minor, MIN)

right_group = alt.layer(gbm_pts, right_frame, t_bl_major, t_bl_minor, t_tr_major, t_tr_minor).resolve_axis(
    x="independent", y="independent")


# ---------------- text ----------------
def label(text, x, y, size, font="Lato", color="black", weight="normal", angle=0, align="center",
          style="normal"):
    return alt.Chart(pd.DataFrame({"label": [text]})).mark_text(
        font=font, fontSize=size, color=color, fontWeight=weight, angle=angle, align=align,
        baseline="middle", fontStyle=style,
    ).encode(x=alt.value(px(x)), y=alt.value(py(y)), text="label:N")


BLUE_TXT = "#5A8DC8"
RED_TXT = "#C0504D"
texts = [
    label("Swift/BAT", 614, 117, 42),
    label("Lien & Sakamoto et al. (2016)", 721, 182, 32),
    label("Short GRBs", 492, 535, 29, color=BLUE_TXT, weight="bold"),
    label("(Neutron star mergers?)", 491, 576, 33, color=BLUE_TXT, weight="bold"),
    label("Long GRBs", 803, 535, 30, color=RED_TXT, weight="bold"),
    label("(Supernovae?)", 802, 576, 33, color=RED_TXT, weight="bold"),
    label("Ratio of Energy Fluence (S)", 141, 390, 37.5, font="DejaVu Sans", angle=270),
    label("S(50-100 keV)/S(25-50 keV)", 197, 390, 37.5, font="DejaVu Sans", angle=270),
    label("T", 607, 707, 34, font="DejaVu Sans", align="right", style="italic"),
    label("₉₀ [s]", 607, 707, 34, font="DejaVu Sans", align="left"),
    label("Burst Duration", 618, 751, 40),
    label("Fermi/GBM", 1547, 99, 43),
    label("von Kienlin et al (2020)", 1658, 188, 43),
    label("Hardness", 1121, 417, 25, font="DejaVu Sans", angle=270),
    label("T", 1533, 733, 25, font="DejaVu Sans", align="right", style="italic"),
    label("₉₀ [s]", 1533, 733, 25, font="DejaVu Sans", align="left"),
]

chart = alt.layer(left_group, right_group, *texts).resolve_scale(
    x="independent", y="independent"
).resolve_axis(
    x="independent", y="independent"
).properties(
    width=W, height=H,
    autosize=alt.AutoSizeParams(type="none"),
    padding={"left": PL, "top": PT, "right": PR, "bottom": PB},
    background="white",
).configure_view(stroke="#2F5597", strokeWidth=3)

chart.save("out.html", embed_options={"renderer": "svg", "actions": False})
